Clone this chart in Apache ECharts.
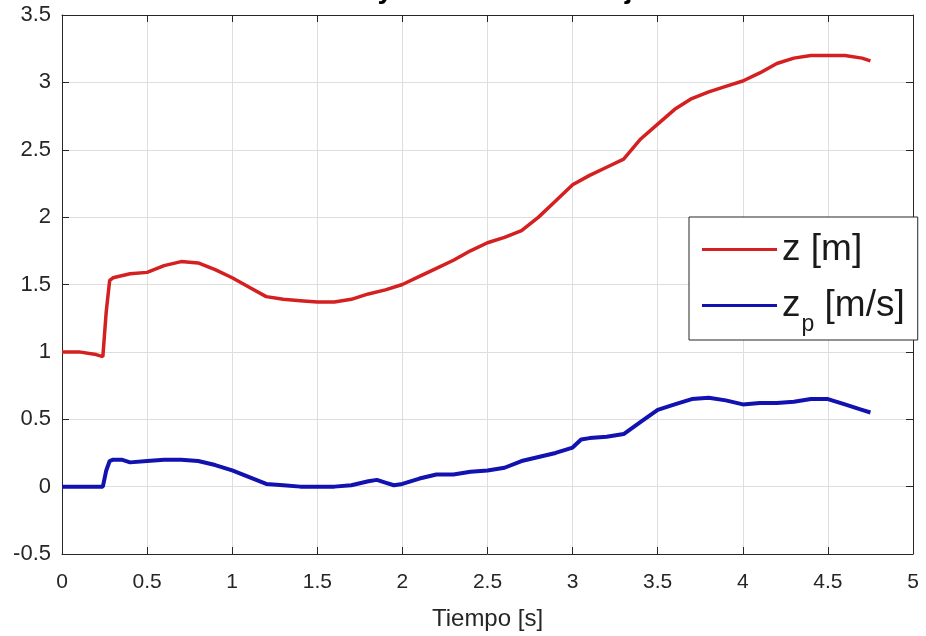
<!DOCTYPE html>
<html>
<head>
<meta charset="utf-8">
<script src="https://cdn.jsdelivr.net/npm/echarts@6/dist/echarts.min.js"></script>
<style>html,body{margin:0;padding:0;background:#fff;}#c{width:926px;height:636px;}</style>
</head>
<body>
<div id="c"></div>
<script>
// ---- data ----
const titleText = 'Posición y velocidad en el eje Z';
const xName = 'Tiempo [s]';
const seriesNames = ['z [m]', 'z_p [m/s]'];
const timeZ = [0,0.1,0.2,0.24,0.26,0.28,0.3,0.4,0.5,0.6,0.7,0.8,0.9,1.0,1.1,1.2,1.3,1.4,1.5,1.6,1.7,1.8,1.9,2.0,2.1,2.2,2.3,2.4,2.5,2.6,2.7,2.8,2.9,3.0,3.1,3.2,3.3,3.4,3.5,3.6,3.7,3.8,3.9,4.0,4.1,4.2,4.3,4.4,4.5,4.6,4.7,4.75];
const zValues = [1.00,1.00,0.98,0.965,1.30,1.53,1.55,1.58,1.59,1.64,1.67,1.66,1.61,1.55,1.48,1.41,1.39,1.38,1.37,1.37,1.39,1.43,1.46,1.50,1.56,1.62,1.68,1.75,1.81,1.85,1.90,2.00,2.12,2.24,2.31,2.37,2.43,2.58,2.69,2.80,2.88,2.93,2.97,3.01,3.07,3.14,3.18,3.20,3.20,3.20,3.18,3.16];
const timeZp = [0,0.1,0.2,0.24,0.26,0.28,0.3,0.35,0.4,0.5,0.6,0.7,0.8,0.9,1.0,1.1,1.2,1.3,1.4,1.5,1.6,1.7,1.8,1.85,1.9,1.95,2.0,2.1,2.2,2.3,2.4,2.5,2.6,2.7,2.8,2.9,3.0,3.05,3.1,3.2,3.3,3.4,3.5,3.6,3.7,3.8,3.9,4.0,4.1,4.2,4.3,4.4,4.5,4.6,4.7,4.75];
const zpValues = [0,0,0,0,0.12,0.19,0.20,0.20,0.18,0.19,0.20,0.20,0.19,0.16,0.12,0.07,0.02,0.01,0.0,0.0,0.0,0.01,0.04,0.05,0.03,0.01,0.02,0.06,0.09,0.09,0.11,0.12,0.14,0.19,0.22,0.25,0.29,0.35,0.36,0.37,0.39,0.48,0.57,0.61,0.65,0.66,0.64,0.61,0.62,0.62,0.63,0.65,0.65,0.61,0.57,0.55];
const xTicks = {min: 0, max: 5, interval: 0.5};
const yTicks = {min: -0.5, max: 3.5, interval: 0.5};

// ---- chart ----
const axisColor = '#262626';
const gridColor = '#dedede';
const labelFont = 'Liberation Sans, Arial, sans-serif';
const chart = echarts.init(document.getElementById('c'), null, {renderer: 'canvas'});
const pair = (t, v) => t.map((x, i) => [x, v[i]]);
const hiddenAxisCommon = {
  axisLine: {show: true, onZero: false, lineStyle: {color: axisColor, width: 1}},
  axisTick: {show: true, inside: true, length: 7, lineStyle: {color: axisColor}},
  axisLabel: {show: false},
  splitLine: {show: false}
};
chart.setOption({
  backgroundColor: '#fff',
  animation: false,
  title: {
    text: titleText, left: 458, textAlign: 'center', top: -29,
    textStyle: {fontFamily: labelFont, fontWeight: 'bold', fontSize: 28, color: '#000'}
  },
  grid: {left: 62, right: 13, top: 15, bottom: 82, containLabel: false},
  legend: {
    orient: 'vertical', left: 689, top: 217,
    backgroundColor: '#fff', borderColor: axisColor, borderWidth: 1, borderRadius: 0,
    padding: [14, 13, 4, 13], itemGap: 19, itemWidth: 75, itemHeight: 3,
    data: [
      {name: seriesNames[0], icon: 'rect'},
      {name: seriesNames[1], icon: 'rect'}
    ],
    formatter: function (name) {
      if (name === seriesNames[1]) return '{n|z}{s|p}{n| [m/s]}';
      return '{n|' + name + '}';
    },
    textStyle: {
      color: '#1a1a1a',
      rich: {
        n: {fontSize: 37, fontFamily: labelFont, color: '#1a1a1a', lineHeight: 37, verticalAlign: 'top'},
        s: {fontSize: 23, fontFamily: labelFont, color: '#1a1a1a', lineHeight: 23, padding: [26, 0, 0, 1], verticalAlign: 'top'}
      }
    }
  },
  xAxis: [{
    type: 'value', position: 'bottom', min: xTicks.min, max: xTicks.max, interval: xTicks.interval,
    name: xName, nameLocation: 'middle', nameGap: 53,
    nameTextStyle: {fontFamily: labelFont, fontSize: 24, color: '#262626'},
    axisLine: {show: true, onZero: false, lineStyle: {color: axisColor, width: 1}},
    axisTick: {show: true, inside: true, length: 7, lineStyle: {color: axisColor}},
    axisLabel: {show: true, margin: 18, fontFamily: labelFont, fontSize: 21, color: '#262626'},
    splitLine: {show: true, lineStyle: {color: gridColor, width: 1}}
  }, Object.assign({
    type: 'value', position: 'top', min: xTicks.min, max: xTicks.max, interval: xTicks.interval
  }, hiddenAxisCommon)],
  yAxis: [{
    type: 'value', position: 'left', min: yTicks.min, max: yTicks.max, interval: yTicks.interval,
    axisLine: {show: true, onZero: false, lineStyle: {color: axisColor, width: 1}},
    axisTick: {show: true, inside: true, length: 7, lineStyle: {color: axisColor}},
    axisLabel: {show: true, margin: 11, fontFamily: labelFont, fontSize: 22, color: '#262626'},
    splitLine: {show: true, lineStyle: {color: gridColor, width: 1}}
  }, Object.assign({
    type: 'value', position: 'right', min: yTicks.min, max: yTicks.max, interval: yTicks.interval
  }, hiddenAxisCommon)],
  series: [
    {name: seriesNames[0], type: 'line', data: pair(timeZ, zValues), symbol: 'none', showSymbol: false,
     color: '#d42020', lineStyle: {color: '#d42020', width: 3.5}, z: 3},
    {name: seriesNames[1], type: 'line', data: pair(timeZp, zpValues), symbol: 'none', showSymbol: false,
     color: '#1212b0', lineStyle: {color: '#1212b0', width: 4}, z: 3}
  ]
});
</script>
</body>
</html>
